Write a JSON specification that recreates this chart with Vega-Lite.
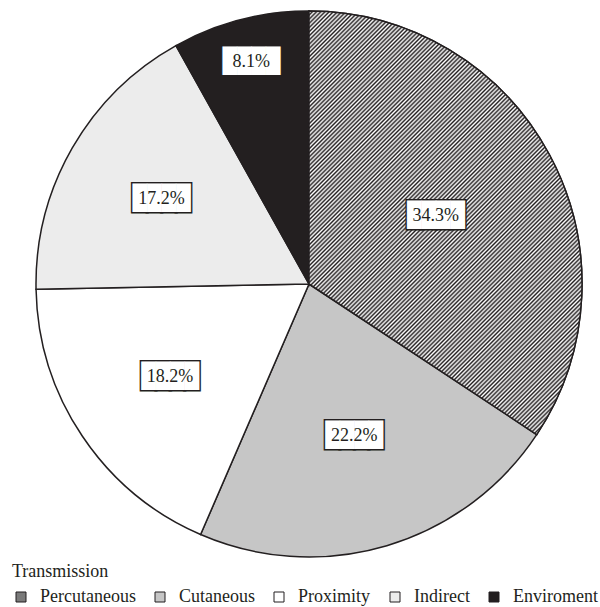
{
"$schema":"https://vega.github.io/schema/vega-lite/v6.json",
"width":600,"height":568,
"padding":{"left":9,"top":0,"right":0,"bottom":0},
"background":"white",
"config":{"view":{"stroke":null},"font":"Liberation Serif","legend":{"symbolStrokeColor":"#231f20","symbolStrokeWidth":1}},
"data":{"values":[
{"Transmission":"Percutaneous","Percentage":34.3,"Order":1,"Label":"34.3%"},
{"Transmission":"Cutaneous","Percentage":22.2,"Order":2,"Label":"22.2%"},
{"Transmission":"Proximity","Percentage":18.2,"Order":3,"Label":"18.2%"},
{"Transmission":"Indirect","Percentage":17.2,"Order":4,"Label":"17.2%"},
{"Transmission":"Enviroment","Percentage":8.1,"Order":5,"Label":"8.1%"}
]},
"transform":[{"stack":"Percentage","groupby":[],"sort":[{"field":"Order","order":"ascending"}],"as":["start","end"]}],
"layer":[
{"mark":{"type":"arc","radius":273,"stroke":"#231f20","strokeWidth":1.5},
"encoding":{
"theta":{"field":"start","type":"quantitative","scale":{"domain":[0,100]}},
"theta2":{"field":"end"},
"color":{"field":"Transmission","type":"nominal","sort":["Percutaneous","Cutaneous","Proximity","Indirect","Enviroment"],
"scale":{"domain":["Percutaneous","Cutaneous","Proximity","Indirect","Enviroment"],"range":["#7a7a7a","#c6c6c6","#ffffff","#ececec","#231f20"]},
"legend":{"orient":"none","legendX":3,"legendY":563,"direction":"horizontal","title":"Transmission","titleFont":"Liberation Serif","titleFontSize":18,"titleFontWeight":"normal","titleColor":"#231f20","titlePadding":7,"labelFont":"Liberation Serif","labelFontSize":18,"labelColor":"#231f20","labelOffset":10,"symbolType":"square","symbolSize":100,"symbolStrokeColor":"#231f20","symbolStrokeWidth":1,"symbolOpacity":1,"columnPadding":15,"padding":0}
}}},
{"transform":[{"filter":"datum.Transmission === 'Percutaneous'"}],
"mark":{"type":"arc","radius":273,"stroke":"#231f20","strokeWidth":1.5,
"fill":{"gradient":"linear","x1":0,"y1":0,"x2":0.7487,"y2":1.162,"stops":[
{"offset":0,"color":"#231f20"},{"offset":0.003,"color":"#fff"},{"offset":0.006,"color":"#231f20"},{"offset":0.009,"color":"#fff"},{"offset":0.012,"color":"#231f20"},{"offset":0.015,"color":"#fff"},{"offset":0.018,"color":"#231f20"},{"offset":0.021,"color":"#fff"},{"offset":0.024,"color":"#231f20"},{"offset":0.027,"color":"#fff"},
{"offset":0.03,"color":"#231f20"},{"offset":0.033,"color":"#fff"},{"offset":0.036,"color":"#231f20"},{"offset":0.039,"color":"#fff"},{"offset":0.042,"color":"#231f20"},{"offset":0.045,"color":"#fff"},{"offset":0.048,"color":"#231f20"},{"offset":0.051,"color":"#fff"},{"offset":0.054,"color":"#231f20"},{"offset":0.057,"color":"#fff"},
{"offset":0.06,"color":"#231f20"},{"offset":0.063,"color":"#fff"},{"offset":0.066,"color":"#231f20"},{"offset":0.069,"color":"#fff"},{"offset":0.072,"color":"#231f20"},{"offset":0.075,"color":"#fff"},{"offset":0.078,"color":"#231f20"},{"offset":0.081,"color":"#fff"},{"offset":0.084,"color":"#231f20"},{"offset":0.087,"color":"#fff"},
{"offset":0.09,"color":"#231f20"},{"offset":0.093,"color":"#fff"},{"offset":0.096,"color":"#231f20"},{"offset":0.099,"color":"#fff"},{"offset":0.102,"color":"#231f20"},{"offset":0.105,"color":"#fff"},{"offset":0.108,"color":"#231f20"},{"offset":0.111,"color":"#fff"},{"offset":0.114,"color":"#231f20"},{"offset":0.117,"color":"#fff"},
{"offset":0.12,"color":"#231f20"},{"offset":0.123,"color":"#fff"},{"offset":0.126,"color":"#231f20"},{"offset":0.129,"color":"#fff"},{"offset":0.132,"color":"#231f20"},{"offset":0.135,"color":"#fff"},{"offset":0.138,"color":"#231f20"},{"offset":0.141,"color":"#fff"},{"offset":0.144,"color":"#231f20"},{"offset":0.147,"color":"#fff"},
{"offset":0.15,"color":"#231f20"},{"offset":0.153,"color":"#fff"},{"offset":0.156,"color":"#231f20"},{"offset":0.159,"color":"#fff"},{"offset":0.162,"color":"#231f20"},{"offset":0.165,"color":"#fff"},{"offset":0.168,"color":"#231f20"},{"offset":0.171,"color":"#fff"},{"offset":0.174,"color":"#231f20"},{"offset":0.177,"color":"#fff"},
{"offset":0.18,"color":"#231f20"},{"offset":0.183,"color":"#fff"},{"offset":0.186,"color":"#231f20"},{"offset":0.189,"color":"#fff"},{"offset":0.192,"color":"#231f20"},{"offset":0.195,"color":"#fff"},{"offset":0.198,"color":"#231f20"},{"offset":0.201,"color":"#fff"},{"offset":0.204,"color":"#231f20"},{"offset":0.207,"color":"#fff"},
{"offset":0.21,"color":"#231f20"},{"offset":0.213,"color":"#fff"},{"offset":0.216,"color":"#231f20"},{"offset":0.219,"color":"#fff"},{"offset":0.222,"color":"#231f20"},{"offset":0.225,"color":"#fff"},{"offset":0.228,"color":"#231f20"},{"offset":0.231,"color":"#fff"},{"offset":0.234,"color":"#231f20"},{"offset":0.237,"color":"#fff"},
{"offset":0.24,"color":"#231f20"},{"offset":0.243,"color":"#fff"},{"offset":0.246,"color":"#231f20"},{"offset":0.249,"color":"#fff"},{"offset":0.252,"color":"#231f20"},{"offset":0.255,"color":"#fff"},{"offset":0.258,"color":"#231f20"},{"offset":0.261,"color":"#fff"},{"offset":0.264,"color":"#231f20"},{"offset":0.267,"color":"#fff"},
{"offset":0.27,"color":"#231f20"},{"offset":0.273,"color":"#fff"},{"offset":0.276,"color":"#231f20"},{"offset":0.279,"color":"#fff"},{"offset":0.282,"color":"#231f20"},{"offset":0.285,"color":"#fff"},{"offset":0.288,"color":"#231f20"},{"offset":0.291,"color":"#fff"},{"offset":0.294,"color":"#231f20"},{"offset":0.297,"color":"#fff"},
{"offset":0.3,"color":"#231f20"},{"offset":0.303,"color":"#fff"},{"offset":0.306,"color":"#231f20"},{"offset":0.309,"color":"#fff"},{"offset":0.312,"color":"#231f20"},{"offset":0.315,"color":"#fff"},{"offset":0.318,"color":"#231f20"},{"offset":0.321,"color":"#fff"},{"offset":0.324,"color":"#231f20"},{"offset":0.327,"color":"#fff"},
{"offset":0.33,"color":"#231f20"},{"offset":0.333,"color":"#fff"},{"offset":0.336,"color":"#231f20"},{"offset":0.339,"color":"#fff"},{"offset":0.342,"color":"#231f20"},{"offset":0.345,"color":"#fff"},{"offset":0.348,"color":"#231f20"},{"offset":0.351,"color":"#fff"},{"offset":0.354,"color":"#231f20"},{"offset":0.357,"color":"#fff"},
{"offset":0.36,"color":"#231f20"},{"offset":0.363,"color":"#fff"},{"offset":0.366,"color":"#231f20"},{"offset":0.369,"color":"#fff"},{"offset":0.372,"color":"#231f20"},{"offset":0.375,"color":"#fff"},{"offset":0.378,"color":"#231f20"},{"offset":0.381,"color":"#fff"},{"offset":0.384,"color":"#231f20"},{"offset":0.387,"color":"#fff"},
{"offset":0.39,"color":"#231f20"},{"offset":0.393,"color":"#fff"},{"offset":0.396,"color":"#231f20"},{"offset":0.399,"color":"#fff"},{"offset":0.402,"color":"#231f20"},{"offset":0.405,"color":"#fff"},{"offset":0.408,"color":"#231f20"},{"offset":0.411,"color":"#fff"},{"offset":0.414,"color":"#231f20"},{"offset":0.417,"color":"#fff"},
{"offset":0.42,"color":"#231f20"},{"offset":0.423,"color":"#fff"},{"offset":0.426,"color":"#231f20"},{"offset":0.429,"color":"#fff"},{"offset":0.432,"color":"#231f20"},{"offset":0.435,"color":"#fff"},{"offset":0.438,"color":"#231f20"},{"offset":0.441,"color":"#fff"},{"offset":0.444,"color":"#231f20"},{"offset":0.447,"color":"#fff"},
{"offset":0.45,"color":"#231f20"},{"offset":0.453,"color":"#fff"},{"offset":0.456,"color":"#231f20"},{"offset":0.459,"color":"#fff"},{"offset":0.462,"color":"#231f20"},{"offset":0.465,"color":"#fff"},{"offset":0.468,"color":"#231f20"},{"offset":0.471,"color":"#fff"},{"offset":0.474,"color":"#231f20"},{"offset":0.477,"color":"#fff"},
{"offset":0.48,"color":"#231f20"},{"offset":0.483,"color":"#fff"},{"offset":0.486,"color":"#231f20"},{"offset":0.489,"color":"#fff"},{"offset":0.492,"color":"#231f20"},{"offset":0.495,"color":"#fff"},{"offset":0.498,"color":"#231f20"},{"offset":0.501,"color":"#fff"},{"offset":0.504,"color":"#231f20"},{"offset":0.507,"color":"#fff"},
{"offset":0.51,"color":"#231f20"},{"offset":0.513,"color":"#fff"},{"offset":0.516,"color":"#231f20"},{"offset":0.519,"color":"#fff"},{"offset":0.522,"color":"#231f20"},{"offset":0.525,"color":"#fff"},{"offset":0.528,"color":"#231f20"},{"offset":0.531,"color":"#fff"},{"offset":0.534,"color":"#231f20"},{"offset":0.537,"color":"#fff"},
{"offset":0.54,"color":"#231f20"},{"offset":0.543,"color":"#fff"},{"offset":0.546,"color":"#231f20"},{"offset":0.549,"color":"#fff"},{"offset":0.552,"color":"#231f20"},{"offset":0.555,"color":"#fff"},{"offset":0.558,"color":"#231f20"},{"offset":0.561,"color":"#fff"},{"offset":0.564,"color":"#231f20"},{"offset":0.567,"color":"#fff"},
{"offset":0.57,"color":"#231f20"},{"offset":0.573,"color":"#fff"},{"offset":0.576,"color":"#231f20"},{"offset":0.579,"color":"#fff"},{"offset":0.582,"color":"#231f20"},{"offset":0.585,"color":"#fff"},{"offset":0.588,"color":"#231f20"},{"offset":0.591,"color":"#fff"},{"offset":0.594,"color":"#231f20"},{"offset":0.597,"color":"#fff"},
{"offset":0.6,"color":"#231f20"},{"offset":0.603,"color":"#fff"},{"offset":0.606,"color":"#231f20"},{"offset":0.609,"color":"#fff"},{"offset":0.612,"color":"#231f20"},{"offset":0.615,"color":"#fff"},{"offset":0.618,"color":"#231f20"},{"offset":0.621,"color":"#fff"},{"offset":0.624,"color":"#231f20"},{"offset":0.627,"color":"#fff"},
{"offset":0.63,"color":"#231f20"},{"offset":0.633,"color":"#fff"},{"offset":0.636,"color":"#231f20"},{"offset":0.639,"color":"#fff"},{"offset":0.642,"color":"#231f20"},{"offset":0.645,"color":"#fff"},{"offset":0.648,"color":"#231f20"},{"offset":0.651,"color":"#fff"},{"offset":0.654,"color":"#231f20"},{"offset":0.657,"color":"#fff"},
{"offset":0.66,"color":"#231f20"},{"offset":0.663,"color":"#fff"},{"offset":0.666,"color":"#231f20"},{"offset":0.669,"color":"#fff"},{"offset":0.672,"color":"#231f20"},{"offset":0.675,"color":"#fff"},{"offset":0.678,"color":"#231f20"},{"offset":0.681,"color":"#fff"},{"offset":0.684,"color":"#231f20"},{"offset":0.687,"color":"#fff"},
{"offset":0.69,"color":"#231f20"},{"offset":0.693,"color":"#fff"},{"offset":0.696,"color":"#231f20"},{"offset":0.699,"color":"#fff"},{"offset":0.702,"color":"#231f20"},{"offset":0.705,"color":"#fff"},{"offset":0.708,"color":"#231f20"},{"offset":0.711,"color":"#fff"},{"offset":0.714,"color":"#231f20"},{"offset":0.717,"color":"#fff"},
{"offset":0.72,"color":"#231f20"},{"offset":0.723,"color":"#fff"},{"offset":0.726,"color":"#231f20"},{"offset":0.729,"color":"#fff"},{"offset":0.732,"color":"#231f20"},{"offset":0.735,"color":"#fff"},{"offset":0.738,"color":"#231f20"},{"offset":0.741,"color":"#fff"},{"offset":0.744,"color":"#231f20"},{"offset":0.747,"color":"#fff"},
{"offset":0.75,"color":"#231f20"},{"offset":0.753,"color":"#fff"},{"offset":0.756,"color":"#231f20"},{"offset":0.759,"color":"#fff"},{"offset":0.762,"color":"#231f20"},{"offset":0.765,"color":"#fff"},{"offset":0.768,"color":"#231f20"},{"offset":0.771,"color":"#fff"},{"offset":0.774,"color":"#231f20"},{"offset":0.777,"color":"#fff"},
{"offset":0.78,"color":"#231f20"},{"offset":0.783,"color":"#fff"},{"offset":0.786,"color":"#231f20"},{"offset":0.789,"color":"#fff"},{"offset":0.792,"color":"#231f20"},{"offset":0.795,"color":"#fff"},{"offset":0.798,"color":"#231f20"},{"offset":0.801,"color":"#fff"},{"offset":0.804,"color":"#231f20"},{"offset":0.807,"color":"#fff"},
{"offset":0.81,"color":"#231f20"},{"offset":0.813,"color":"#fff"},{"offset":0.816,"color":"#231f20"},{"offset":0.819,"color":"#fff"},{"offset":0.822,"color":"#231f20"},{"offset":0.825,"color":"#fff"},{"offset":0.828,"color":"#231f20"},{"offset":0.831,"color":"#fff"},{"offset":0.834,"color":"#231f20"},{"offset":0.837,"color":"#fff"},
{"offset":0.84,"color":"#231f20"},{"offset":0.843,"color":"#fff"},{"offset":0.846,"color":"#231f20"},{"offset":0.849,"color":"#fff"},{"offset":0.852,"color":"#231f20"},{"offset":0.855,"color":"#fff"},{"offset":0.858,"color":"#231f20"},{"offset":0.861,"color":"#fff"},{"offset":0.864,"color":"#231f20"},{"offset":0.867,"color":"#fff"},
{"offset":0.87,"color":"#231f20"},{"offset":0.873,"color":"#fff"},{"offset":0.876,"color":"#231f20"},{"offset":0.879,"color":"#fff"},{"offset":0.882,"color":"#231f20"},{"offset":0.885,"color":"#fff"},{"offset":0.888,"color":"#231f20"},{"offset":0.891,"color":"#fff"},{"offset":0.894,"color":"#231f20"},{"offset":0.897,"color":"#fff"},
{"offset":0.9,"color":"#231f20"},{"offset":0.903,"color":"#fff"},{"offset":0.906,"color":"#231f20"},{"offset":0.909,"color":"#fff"},{"offset":0.912,"color":"#231f20"},{"offset":0.915,"color":"#fff"},{"offset":0.918,"color":"#231f20"},{"offset":0.921,"color":"#fff"},{"offset":0.924,"color":"#231f20"},{"offset":0.927,"color":"#fff"},
{"offset":0.93,"color":"#231f20"},{"offset":0.933,"color":"#fff"},{"offset":0.936,"color":"#231f20"},{"offset":0.939,"color":"#fff"},{"offset":0.942,"color":"#231f20"},{"offset":0.945,"color":"#fff"},{"offset":0.948,"color":"#231f20"},{"offset":0.951,"color":"#fff"},{"offset":0.954,"color":"#231f20"},{"offset":0.957,"color":"#fff"},
{"offset":0.96,"color":"#231f20"},{"offset":0.963,"color":"#fff"},{"offset":0.966,"color":"#231f20"},{"offset":0.969,"color":"#fff"},{"offset":0.972,"color":"#231f20"},{"offset":0.975,"color":"#fff"},{"offset":0.978,"color":"#231f20"},{"offset":0.981,"color":"#fff"},{"offset":0.984,"color":"#231f20"},{"offset":0.987,"color":"#fff"},
{"offset":0.99,"color":"#231f20"},{"offset":0.993,"color":"#fff"},{"offset":0.996,"color":"#231f20"},{"offset":0.999,"color":"#fff"}
]}},
"encoding":{"theta":{"field":"start","type":"quantitative","scale":{"domain":[0,100]}},"theta2":{"field":"end"}}},
{"mark":{"type":"text","font":"DejaVu Sans Mono","fontSize":24,"text":"████","fill":"#231f20","stroke":"#231f20","strokeWidth":3,"baseline":"middle","align":"center"},
"encoding":{"theta":{"field":"Percentage","type":"quantitative","stack":true,"scale":{"domain":[0,100]}},"order":{"field":"Order","type":"quantitative"},
"radius":{"field":"Percentage","type":"quantitative","scale":{"type":"pow","exponent":-1,"zero":false,"domain":[8.1,34.3],"range":[229,144]}}}},
{"mark":{"type":"text","font":"DejaVu Sans Mono","fontSize":24,"text":"████","fill":"#ffffff","baseline":"middle","align":"center"},
"encoding":{"theta":{"field":"Percentage","type":"quantitative","stack":true,"scale":{"domain":[0,100]}},"order":{"field":"Order","type":"quantitative"},
"radius":{"field":"Percentage","type":"quantitative","scale":{"type":"pow","exponent":-1,"zero":false,"domain":[8.1,34.3],"range":[229,144]}}}},
{"mark":{"type":"text","font":"Liberation Serif","fontSize":18,"fill":"#231f20","baseline":"middle","align":"center"},
"encoding":{"theta":{"field":"Percentage","type":"quantitative","stack":true,"scale":{"domain":[0,100]}},"order":{"field":"Order","type":"quantitative"},
"radius":{"field":"Percentage","type":"quantitative","scale":{"type":"pow","exponent":-1,"zero":false,"domain":[8.1,34.3],"range":[229,144]}},
"text":{"field":"Label","type":"nominal"}}}
]
}
